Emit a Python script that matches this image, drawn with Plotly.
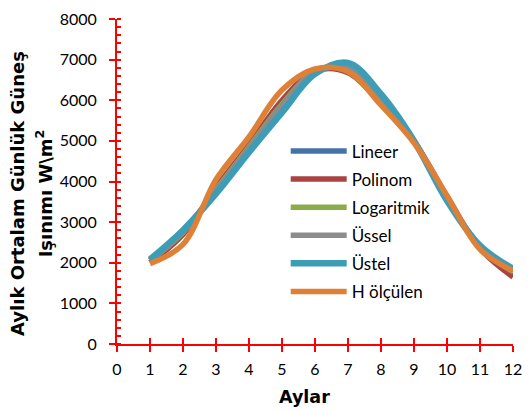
import plotly.graph_objects as go

months = [1, 2, 3, 4, 5, 6, 7, 8, 9, 10, 11, 12]
series_names = ["Lineer", "Polinom", "Logaritmik", "Üssel", "Üstel", "H ölçülen"]
lineer = [2060, 2780, 3750, 4800, 5800, 6680, 6850, 6080, 4990, 3570, 2400, 1800]
polinom = [2000, 2700, 3850, 4900, 6000, 6720, 6680, 5920, 4980, 3640, 2350, 1650]
logaritmik = [2050, 2750, 3800, 4850, 5900, 6700, 6760, 5980, 4990, 3600, 2380, 1780]
ussel = [2050, 2760, 3780, 4830, 5870, 6700, 6800, 6020, 5000, 3590, 2390, 1790]
ustel = [2080, 2800, 3700, 4720, 5700, 6650, 6920, 6150, 5000, 3530, 2420, 1850]
h_olculen = [1980, 2450, 4050, 5100, 6250, 6770, 6700, 5880, 4950, 3650, 2330, 1800]

x_title = "Aylar"
y_title_lines = ["Aylık Ortalam Günlük Güneş", "Işınımı W\\m<sup>2</sup>"]

all_values = [lineer, polinom, logaritmik, ussel, ustel, h_olculen]
colors = ["#4573A9", "#AA4442", "#8CAC4B", "#8C8C8C", "#3E9DB6", "#DE8137"]
widths = [5.5, 5.5, 5.5, 5.5, 6.5, 5.5]

FONT = "Lato"
TFONT = "DejaVu Sans"
fig = go.Figure()
for i, (name, vals) in enumerate(zip(series_names, all_values)):
    fig.add_trace(go.Scatter(
        x=months, y=vals, name=name, mode="lines",
        line=dict(color=colors[i], width=widths[i], shape="spline", smoothing=1.0),
        legendgroup=name,
    ))

axis_red = "#FF0000"
fig.update_layout(
    width=531, height=411,
    margin=dict(l=117, r=9, t=10, b=67),
    paper_bgcolor="white", plot_bgcolor="white",
    font=dict(family=FONT, size=16, color="black"),
    showlegend=True,
    legend=dict(
        x=0.426, y=0.648, xanchor="left", yanchor="top",
        bgcolor="rgba(0,0,0,0)", font=dict(family=FONT, size=17, color="black"),
        itemwidth=56, tracegroupgap=3,
    ),
    xaxis=dict(
        range=[0, 12], dtick=1, tick0=0, showgrid=False, zeroline=False,
        showline=True, linecolor=axis_red, linewidth=2,
        ticks="outside", ticklen=6, tickcolor=axis_red, tickwidth=1.5,
        tickfont=dict(family=FONT, size=16, color="black"),
        ticklabeloverflow="allow", ticklabelstandoff=4,
    ),
    xaxis2=dict(
        range=[0, 12], dtick=1, tick0=0, overlaying="x", anchor="y", side="bottom",
        showgrid=False, zeroline=False, showline=False,
        ticks="inside", ticklen=6, tickcolor=axis_red, tickwidth=1.5,
        showticklabels=False,
    ),
    yaxis=dict(
        range=[0, 8000], dtick=1000, tick0=0, showgrid=False, zeroline=False,
        showline=True, linecolor=axis_red, linewidth=2,
        ticks="outside", ticklen=6, tickcolor=axis_red, tickwidth=1.5,
        minor=dict(dtick=200, ticks="inside", ticklen=4, tickcolor=axis_red, tickwidth=1.5, showgrid=False),
        tickfont=dict(family=FONT, size=16, color="black"),
        ticklabeloverflow="allow", ticklabelstandoff=9,
    ),
    yaxis2=dict(
        range=[0, 8000], dtick=1000, tick0=0, overlaying="y", anchor="x", side="left",
        showgrid=False, zeroline=False, showline=False,
        ticks="inside", ticklen=4, tickcolor=axis_red, tickwidth=1.5,
        showticklabels=False,
    ),
)
# invisible trace to activate the secondary tick axes
fig.add_trace(go.Scatter(x=[None], y=[None], xaxis="x2", yaxis="y2", showlegend=False, hoverinfo="skip"))

# axis titles
fig.add_annotation(
    text="<b>" + x_title + "</b>", xref="paper", yref="paper",
    x=0.474, y=-0.162, xanchor="center", yanchor="middle", showarrow=False,
    font=dict(family=TFONT, size=17.5, color="black"),
)
fig.add_annotation(
    text="<b><span style='font-size:18px'>" + y_title_lines[0] + "</span><br>"
         "<span style='font-size:18px'>" + y_title_lines[1] + "</span></b>",
    xref="paper", yref="paper", x=-0.217, y=0.462, xanchor="center", yanchor="middle",
    textangle=-90, showarrow=False,
    font=dict(family=TFONT, size=21, color="black"),
)

fig.write_html("out.html", config={"displayModeBar": False},
               post_script="document.body.style.margin='0px';")
